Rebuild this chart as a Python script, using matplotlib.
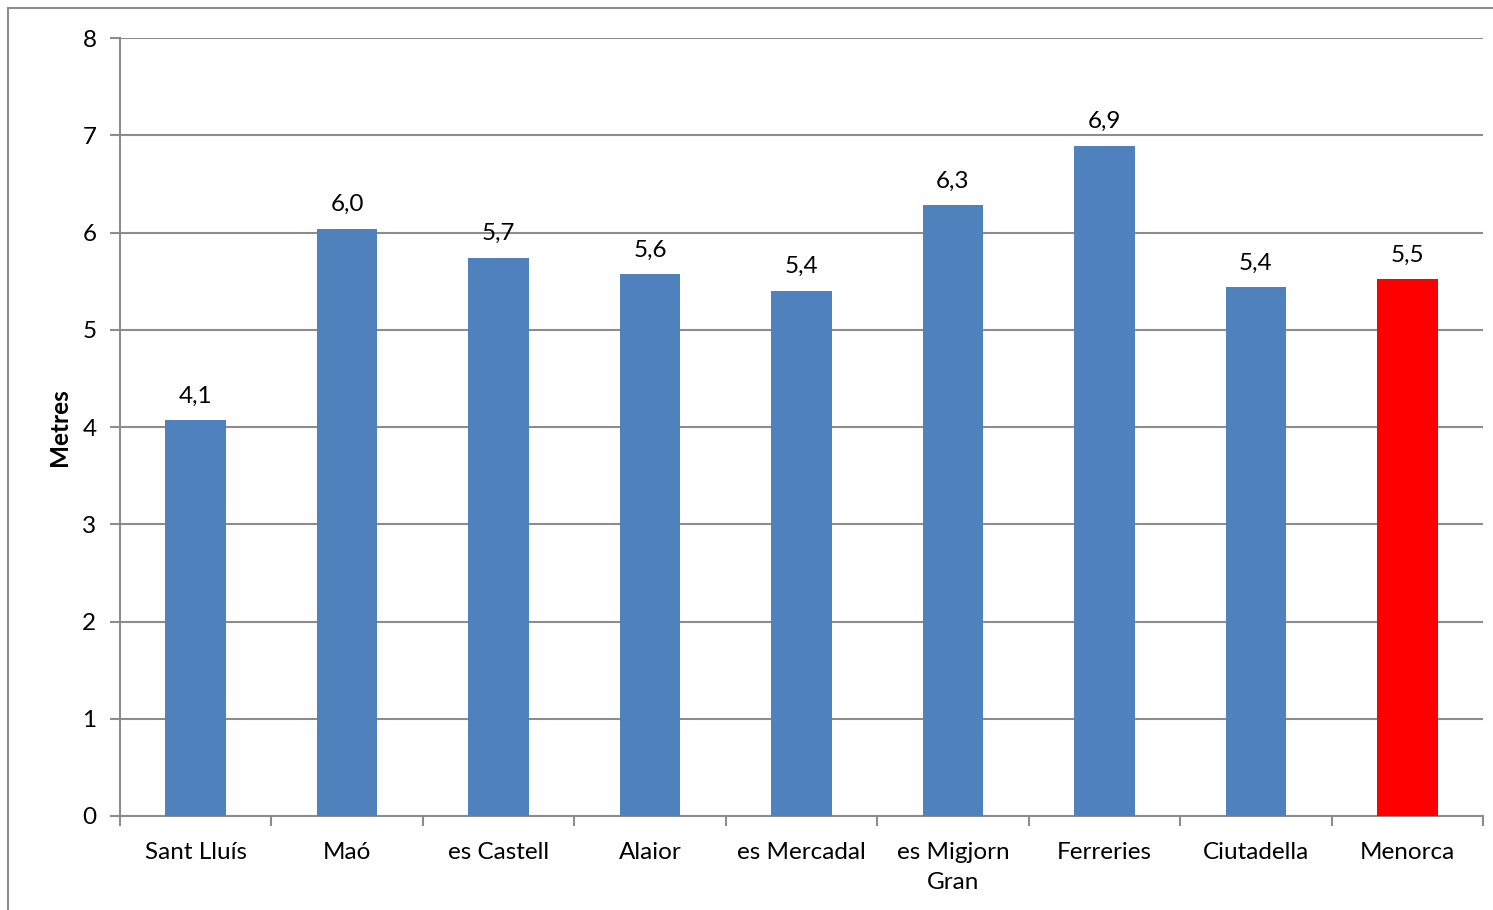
import matplotlib
matplotlib.use("Agg")
import matplotlib.pyplot as plt
from matplotlib.patches import Rectangle

# data
municipis = ["Sant Lluís", "Maó", "es Castell", "Alaior", "es Mercadal",
             "es Migjorn\nGran", "Ferreries", "Ciutadella", "Menorca"]
metres = [4.07, 6.04, 5.74, 5.57, 5.40, 6.28, 6.89, 5.44, 5.52]
colors = ["#4F81BD"] * 8 + ["#FF0000"]
yticks = [0, 1, 2, 3, 4, 5, 6, 7, 8]

plt.rcParams["font.family"] = ["Lato", "DejaVu Sans"]
GRAY = "#8C8C8C"
FS = 17.5

fig = plt.figure(figsize=(14.93, 9.10), dpi=100)
ax = fig.add_axes([120 / 1493, 94 / 910, 1363 / 1493, 778 / 910])

# outer chart frame (partly cut off on the right/bottom)
fig.patches.append(Rectangle((8 / 1493, -0.05), 1.2, 902 / 910 + 0.05,
                             transform=fig.transFigure, fill=False,
                             edgecolor=GRAY, linewidth=1.5))

x = list(range(len(municipis)))
ax.bar(x, metres, width=0.4, color=colors, zorder=3)
for xi, v in zip(x, metres):
    ax.text(xi, v + 0.14, f"{v:.1f}".replace(".", ","), ha="center",
            va="bottom", fontsize=FS)

ax.set_xlim(-0.5, len(municipis) - 0.5)
ax.set_ylim(0, 8)
ax.set_yticks(yticks)
ax.yaxis.grid(True, color=GRAY, linewidth=1.5, zorder=0)
ax.tick_params(axis="y", labelsize=FS, length=7, width=1.5, color=GRAY, pad=10)

ax.set_xticks(x)
ax.set_xticklabels(municipis, fontsize=FS, linespacing=1.5)
ax.tick_params(axis="x", length=0, pad=19)
ax.set_xticks([i - 0.5 for i in range(len(municipis) + 1)], minor=True)
ax.tick_params(axis="x", which="minor", length=7, width=1.5, color=GRAY)

for s in ["top", "right"]:
    ax.spines[s].set_visible(False)
for s in ["left", "bottom"]:
    ax.spines[s].set_color(GRAY)
    ax.spines[s].set_linewidth(1.5)

ax.set_ylabel("Metres", fontsize=FS, fontweight="bold", labelpad=8)

fig.savefig("out.png", dpi=100)
